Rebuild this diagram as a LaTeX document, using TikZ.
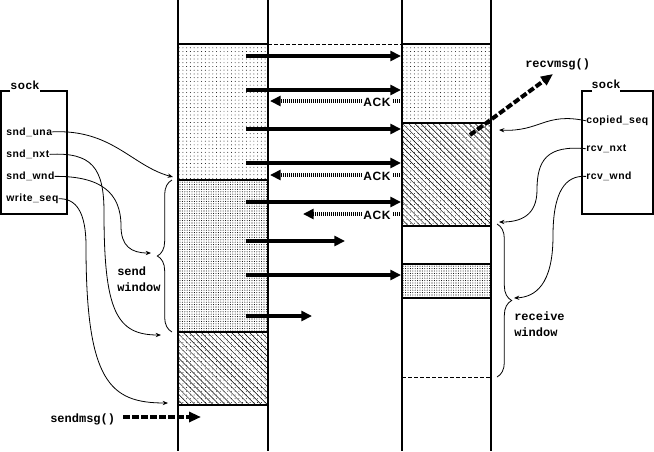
\documentclass[tikz,border=0pt]{standalone}
\usepackage{fontspec}
\setmainfont{Liberation Sans}
\newfontfamily\labfont{Liberation Sans}[LetterSpace=5]
\newfontfamily\codefont{Liberation Mono}
\usetikzlibrary{arrows.meta,patterns.meta,decorations.pathreplacing}
\begin{document}
\begin{tikzpicture}[x=0.75pt,y=-0.75pt,
  lab/.style={font=\labfont\bfseries\fontsize{7.8}{9}\selectfont, inner sep=0pt},
  socklab/.style={font=\labfont\bfseries\fontsize{8.8}{10}\selectfont, inner sep=0pt},
  acktext/.style={font=\labfont\bfseries\fontsize{9}{10}\selectfont, inner sep=1pt, fill=white},
  code/.style={font=\codefont\bfseries\fontsize{9}{10}\selectfont, inner sep=0pt},
  ptr/.style={line width=0.6pt, -{Stealth[length=4pt,width=3.2pt]}},
  data/.style={line width=3pt, -{Triangle[length=8pt,width=7.5pt]}},
  ack/.style={line width=3pt, dash pattern=on 0.75pt off 0.75pt, -{Triangle[length=8pt,width=7.5pt]}},
  call/.style={line width=3pt, dash pattern=on 5pt off 1.8pt, -{Triangle[length=9pt,width=7.5pt]}},
  light/.style={pattern={Dots[distance=2.8pt,radius=0.35pt]}},
  dense/.style={pattern={Dots[distance=1.8pt,radius=0.38pt]}},
  hatch/.style={pattern={Lines[angle=-45,distance=3.2pt,line width=0.35pt]}},
  col/.style={line width=0.8pt},
  brc/.style={line width=0.6pt, decorate, decoration={brace,amplitude=11pt}},
]
\useasboundingbox (0,0) rectangle (654,451);

% ---- buffer fills
\fill[light] (178,44) rectangle (268,180);
\fill[dense] (178,180) rectangle (268,332);
\fill[light] (178,332) rectangle (268,405);
\fill[hatch] (178,332) rectangle (268,405);
\fill[light] (402,44) rectangle (491,123);
\fill[light] (402,123) rectangle (491,226);
\fill[hatch] (402,123) rectangle (491,226);
\fill[dense] (402,264) rectangle (491,298);

% ---- columns
\draw[col] (178,0) -- (178,451);
\draw[col] (268,0) -- (268,451);
\draw[col] (402,0) -- (402,451);
\draw[col] (491,0) -- (491,451);
\draw[col] (178,44) -- (268,44);
\draw[line width=0.6pt, dash pattern=on 3pt off 1.5pt] (268,44) -- (402,44);
\draw[col] (402,44) -- (491,44);
\draw[col] (178,180) -- (268,180);
\draw[col] (178,332) -- (268,332);
\draw[col] (178,405) -- (268,405);
\draw[col] (402,123) -- (491,123);
\draw[col] (402,226) -- (491,226);
\draw[col] (402,264) -- (491,264);
\draw[col] (402,298) -- (491,298);
\draw[line width=0.6pt, dash pattern=on 3pt off 1.5pt] (402,377) -- (491,377);

% ---- data segments
\foreach \y/\e in {56/401, 90/401, 129/401, 163/401, 202/401, 241/345, 275/401, 316/312}
  \draw[data] (246,\y) -- (\e,\y);

% ---- ACKs
\draw[ack] (400,101) -- (270,101);
\node[acktext] (ack1) at (377,102) {ACK};
\draw[ack] (400,175) -- (270,175);
\node[acktext] (ack2) at (377,176) {ACK};
\draw[ack] (400,214) -- (303,214);
\node[acktext] (ack3) at (377,215) {ACK};

% ---- left sock
\node[socklab, anchor=base] (lsock) at (25,89) {sock};
\draw[col] (10,91) -- (1,91) -- (1,214) -- (67,214) -- (67,91) -- (40,91);
\node[lab, anchor=base west] (una) at (6,135) {snd\_una};
\node[lab, anchor=base west] (nxt) at (6,157.5) {snd\_nxt};
\node[lab, anchor=base west] (wnd) at (6,179.5) {snd\_wnd};
\node[lab, anchor=base west] (wseq) at (6,201.5) {write\_seq};

% ---- right sock
\node[socklab, anchor=base] (rsock) at (606,88) {sock};
\draw[col] (592,91) -- (582,91) -- (582,214) -- (653,214) -- (653,91) -- (620,91);
\node[lab, anchor=base west] (cop) at (586,123.5) {copied\_seq};
\node[lab, anchor=base west] (rnxt) at (586,151.5) {rcv\_nxt};
\node[lab, anchor=base west] (rwnd) at (586,179.5) {rcv\_wnd};

% ---- pointer targets
\coordinate (sndtop) at (173,177);
\coordinate (sndmid) at (151,253);
\coordinate (sndnxtpt) at (161,335);
\coordinate (wseqpt) at (168,403);
\coordinate (copiedpt) at (499,130);
\coordinate (rnxtpt) at (499,222);
\coordinate (rwndpt) at (514,298);

% ---- pointers
\draw[ptr] (una.east) .. controls (112,129) and (132,166) .. (sndtop);
\draw[ptr] (nxt.east) .. controls (92,152) and (104,168) .. (104,212) .. controls (104,310) and (116,335) .. (sndnxtpt);
\draw[ptr] (wnd.east) .. controls (100,176) and (121,192) .. (121,226) .. controls (121,246) and (131,253) .. (sndmid);
\draw[ptr] (wseq.east) .. controls (76,198) and (86,212) .. (86,246) .. controls (86,382) and (110,403) .. (wseqpt);
\draw[ptr] (cop.west) .. controls (545,112) and (540,132) .. (copiedpt);
\draw[ptr] (rnxt.west) .. controls (547,145) and (537,160) .. (537,190) .. controls (537,216) and (520,222) .. (rnxtpt);
\draw[ptr] (rwnd.west) .. controls (565,175) and (553,192) .. (553,236) .. controls (553,285) and (535,297) .. (rwndpt);

% ---- braces
\draw[brc] (172,332) -- (172,180);
\draw[brc] (497,224) -- (497,377);
\node[code, anchor=base west] (sendw1) at (117,275) {send};
\node[code, anchor=base west] (sendw2) at (117,291.5) {window};
\node[code, anchor=base west] (recw1) at (514,320.5) {receive};
\node[code, anchor=base west] (recw2) at (514,336.5) {window};

% ---- calls
\node[code, anchor=base west] (sendmsg) at (50,422) {sendmsg()};
\coordinate (sendstart) at (123,417);
\coordinate (sendend) at (201,417);
\draw[call] (sendstart) -- (sendend);
\node[code, anchor=base west] (recvmsg) at (525,67) {recvmsg()};
\coordinate (recvstart) at (470,135);
\coordinate (recvend) at (553,74);
\draw[call] (recvstart) -- (recvend);
\end{tikzpicture}
\end{document}
